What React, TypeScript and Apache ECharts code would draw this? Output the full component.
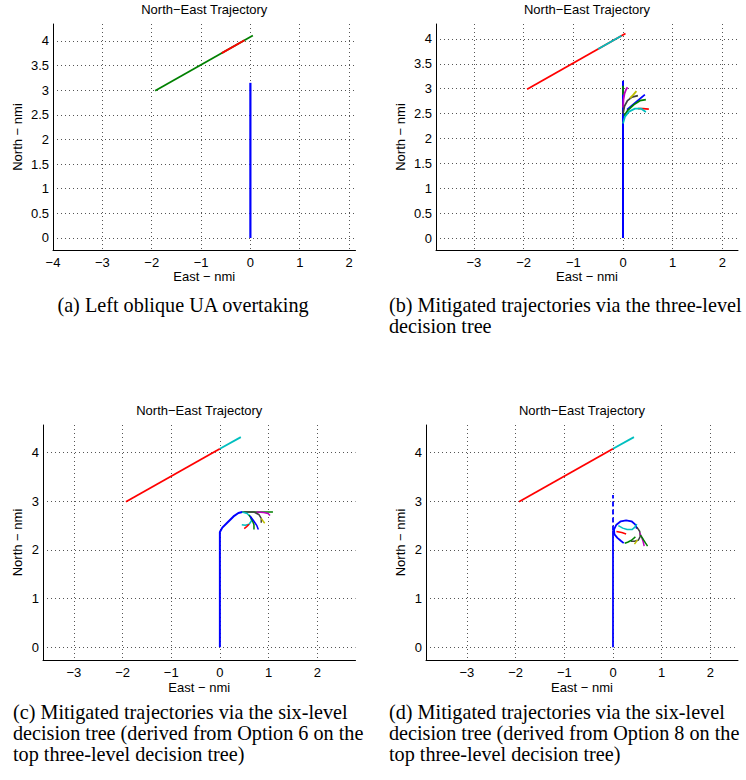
import React, { useEffect, useRef } from "react";
import * as echarts from "echarts";

// MATLAB (pre-2014b) line colour order
const BLUE = "#0000ff";
const GREEN = "#008000";
const RED = "#ff0000";
const CYAN = "#00bfbf";
const MAGENTA = "#bf00bf";
const YELLOW = "#bfbf00";
const GRAY = "#404040";

// Tick values
const xTicksA = [-4, -3, -2, -1, 0, 1, 2];
const xTicksBCD = [-3, -2, -1, 0, 1, 2];
const yTicksAB = [0, 0.5, 1, 1.5, 2, 2.5, 3, 3.5, 4];
const yTicksCD = [0, 1, 2, 3, 4];

// (a) Left oblique UA overtaking
const ownA = [[0, 0], [0, 3.15]];
const intruderA = [[-1.93, 2.99], [0.05, 4.11]];
const conflictA = [[-0.58, 3.754], [-0.12, 4.014]];

// (b) three-level decision tree
const ownB = [[0, 0], [0, 3.16]];
const intruderB = [[-1.93, 2.99], [0.05, 4.11]];
const intruderSegB = [[-0.5, 3.799], [-0.03, 4.065]];
const branchesB: [number[][], string][] = [
  [[[0, 2.88], [0, 3.06]], GREEN],
  [[[0, 2.62], [0.01, 2.78], [0.03, 2.9], [0.06, 2.98], [0.09, 3.03]], MAGENTA],
  [[[0, 2.5], [0.03, 2.65], [0.09, 2.76], [0.18, 2.83], [0.3, 2.86]], GRAY],
  [[[0.14, 2.81], [0.2, 2.87], [0.27, 2.95]], YELLOW],
  [[[0.08, 2.58], [0.2, 2.68], [0.32, 2.78], [0.44, 2.88]], BLUE],
  [[[0.02, 2.45], [0.1, 2.57], [0.22, 2.68], [0.34, 2.76], [0.46, 2.78]], GREEN],
  [[[0.3, 2.6], [0.4, 2.6], [0.52, 2.59]], RED],
  [[[0, 2.3], [0.04, 2.44], [0.12, 2.54], [0.24, 2.6], [0.36, 2.6], [0.46, 2.53]], CYAN],
];

// (c) six-level tree, derived from Option 6
const ownC = [[0, 0], [0, 2.37], [0.05, 2.46], [0.15, 2.56], [0.28, 2.69], [0.38, 2.76], [0.46, 2.78]];
const intruderC = [[-1.93, 2.99], [0, 4.08]];
const intruderSegC = [[0, 4.08], [0.43, 4.32]];
const branchesC: [number[][], string][] = [
  [[[0.46, 2.78], [0.75, 2.78], [1.09, 2.78]], GREEN],
  [[[0.75, 2.78], [0.9, 2.77], [0.99, 2.75], [1.03, 2.71]], MAGENTA],
  [[[0.46, 2.78], [0.7, 2.78], [0.8, 2.73], [0.85, 2.65], [0.85, 2.56]], GRAY],
  [[[0.85, 2.65], [0.89, 2.59], [0.92, 2.55]], YELLOW],
  [[[0.46, 2.78], [0.56, 2.75], [0.63, 2.68], [0.65, 2.6], [0.6, 2.53], [0.52, 2.51], [0.45, 2.52]], CYAN],
  [[[0.6, 2.53], [0.55, 2.48], [0.5, 2.44]], RED],
  [[[0.6, 2.72], [0.66, 2.62], [0.7, 2.52], [0.7, 2.42]], GREEN],
  [[[0.62, 2.7], [0.7, 2.59], [0.76, 2.5], [0.79, 2.42]], BLUE],
];

// (d) six-level tree, derived from Option 8
const ownD = [[0, 0], [0, 2.4]];
const ownDashedD = [[0, 2.4], [0, 3.13]];
const loopD = [
  [0.49, 2.44], [0.46, 2.52], [0.38, 2.59], [0.27, 2.61], [0.16, 2.59], [0.07, 2.52],
  [0.02, 2.42], [0.03, 2.32], [0.09, 2.25], [0.16, 2.19], [0.22, 2.14],
];
const intruderD = [[-1.93, 2.99], [0, 4.08]];
const intruderSegD = [[0, 4.08], [0.43, 4.32]];
const branchesD: [number[][], string][] = [
  [[[0.11, 2.5], [0.2, 2.45], [0.29, 2.42], [0.39, 2.42], [0.45, 2.47], [0.49, 2.53]], CYAN],
  [[[0.07, 2.38], [0.18, 2.36], [0.27, 2.33]], RED],
  [[[0.49, 2.47], [0.55, 2.38], [0.56, 2.28], [0.52, 2.2], [0.44, 2.18], [0.37, 2.18]], GRAY],
  [[[0.46, 2.27], [0.38, 2.2], [0.3, 2.16], [0.24, 2.14]], GREEN],
  [[[0.5, 2.21], [0.47, 2.16], [0.44, 2.12]], YELLOW],
  [[[0.55, 2.35], [0.59, 2.26], [0.62, 2.17], [0.64, 2.08]], MAGENTA],
  [[[0.56, 2.31], [0.62, 2.22], [0.67, 2.14], [0.71, 2.08]], GREEN],
];

const SANS = "'Liberation Sans', Arial, Helvetica, sans-serif";
const SERIF = "'Liberation Serif', 'Times New Roman', serif";

type Panel = {
  grid: { left: number; top: number; width: number; height: number };
  x: [number, number];
  y: [number, number];
  xTicks: number[];
  yTicks: number[];
  xGap: number;
  yGap: number;
  lines: { data: number[][]; color: string; width: number; dashed?: boolean }[];
};

const panels: Panel[] = [
  {
    grid: { left: 53, top: 24, width: 302.5, height: 226 },
    x: [-4, 2.13],
    y: [-0.244, 4.345],
    xTicks: xTicksA,
    yTicks: yTicksAB,
    xGap: 20,
    yGap: 29,
    lines: [
      { data: ownA, color: BLUE, width: 2.2 },
      { data: intruderA, color: GREEN, width: 1.8 },
      { data: conflictA, color: RED, width: 1.8 },
    ],
  },
  {
    grid: { left: 436, top: 24, width: 302, height: 226 },
    x: [-3.763, 2.314],
    y: [-0.241, 4.3],
    xTicks: xTicksBCD,
    yTicks: yTicksAB,
    xGap: 20,
    yGap: 29,
    lines: [
      { data: ownB, color: BLUE, width: 2 },
      { data: intruderB, color: RED, width: 1.8 },
      { data: intruderSegB, color: CYAN, width: 1.8 },
      ...branchesB.map(([d, c]) => ({ data: d, color: c, width: 1.8 })),
    ],
  },
  {
    grid: { left: 43, top: 425, width: 312.5, height: 235 },
    x: [-3.634, 2.786],
    y: [-0.261, 4.569],
    xTicks: xTicksBCD,
    yTicks: yTicksCD,
    xGap: 21,
    yGap: 19,
    lines: [
      { data: ownC, color: BLUE, width: 2 },
      { data: intruderC, color: RED, width: 1.8 },
      { data: intruderSegC, color: CYAN, width: 1.8 },
      ...branchesC.map(([d, c]) => ({ data: d, color: c, width: 1.5 })),
    ],
  },
  {
    grid: { left: 426, top: 425, width: 312, height: 235 },
    x: [-3.84, 2.567],
    y: [-0.261, 4.569],
    xTicks: xTicksBCD,
    yTicks: yTicksCD,
    xGap: 21,
    yGap: 19,
    lines: [
      { data: ownD, color: BLUE, width: 1.8 },
      { data: ownDashedD, color: BLUE, width: 1.8, dashed: true },
      { data: loopD, color: BLUE, width: 1.8 },
      { data: intruderD, color: RED, width: 1.8 },
      { data: intruderSegD, color: CYAN, width: 1.8 },
      ...branchesD.map(([d, c]) => ({ data: d, color: c, width: 1.5 })),
    ],
  },
];

const TITLE = "North\u2212East Trajectory";
const X_NAME = "East \u2212 nmi";
const Y_NAME = "North \u2212 nmi";

const captionA = ["(a) Left oblique UA overtaking"];
const captionB = ["(b) Mitigated trajectories via the three-level", "decision tree"];
const captionC = [
  "(c) Mitigated trajectories via the six-level",
  "decision tree (derived from Option 6 on the",
  "top three-level decision tree)",
];
const captionD = [
  "(d) Mitigated trajectories via the six-level",
  "decision tree (derived from Option 8 on the",
  "top three-level decision tree)",
];

const minus = (v: number) => String(v).replace("-", "\u2212");

function axisCommon(ticks: number[]) {
  return {
    type: "value" as const,
    nameLocation: "middle" as const,
    nameTextStyle: { fontFamily: SANS, fontSize: 13, color: "#000" },
    axisLine: { show: true, onZero: false, lineStyle: { color: "#000", width: 1 } },
    axisTick: { show: false, customValues: ticks },
    axisLabel: {
      customValues: ticks,
      formatter: minus,
      color: "#000",
      fontFamily: SANS,
      fontSize: 13,
    },
    splitLine: { show: true, lineStyle: { color: "#555", width: 1, type: [1, 3] } },
  };
}

export default function App() {
  const ref = useRef<HTMLDivElement>(null);

  useEffect(() => {
    if (!ref.current) return;
    const chart = echarts.init(ref.current, undefined, { renderer: "svg" });

    const grids = panels.map((p) => ({ ...p.grid, containLabel: false }));
    const xAxes = panels.map((p, i) => {
      const c = axisCommon(p.xTicks);
      return {
        ...c,
        gridIndex: i,
        min: p.x[0],
        max: p.x[1],
        name: X_NAME,
        nameGap: p.xGap,
        axisLabel: { ...c.axisLabel, margin: 6 },
      };
    });
    const yAxes = panels.map((p, i) => {
      const c = axisCommon(p.yTicks);
      return {
        ...c,
        gridIndex: i,
        min: p.y[0],
        max: p.y[1],
        name: Y_NAME,
        nameGap: p.yGap,
        nameRotate: 90,
        axisLabel: { ...c.axisLabel, margin: 4 },
      };
    });
    const series: any[] = [];
    panels.forEach((p, i) => {
      p.lines.forEach((l) => {
        series.push({
          type: "line",
          xAxisIndex: i,
          yAxisIndex: i,
          data: l.data,
          symbol: "none",
          showSymbol: false,
          silent: true,
          lineStyle: { color: l.color, width: l.width, type: l.dashed ? [5, 3] : "solid" },
        });
      });
    });

    const graphic: any[] = [];
    panels.forEach((p) => {
      graphic.push({
        type: "text",
        x: p.grid.left + p.grid.width / 2,
        y: p.grid.top - 15,
        style: {
          text: TITLE,
          fontFamily: SANS,
          fontSize: 13,
          fill: "#000",
          textAlign: "center",
          textVerticalAlign: "middle",
        },
      });
    });
    const captions: [string[], number, number, "left" | "center"][] = [
      [captionA, 183, 305, "center"],
      [captionB, 389, 305, "left"],
      [captionC, 13, 711.5, "left"],
      [captionD, 389, 711.5, "left"],
    ];
    captions.forEach(([lines, x, y, align]) => {
      lines.forEach((t, k) => {
        graphic.push({
          type: "text",
          x,
          y: y + k * 21,
          style: {
            text: t,
            fontFamily: SERIF,
            fontSize: 20.2,
            fill: "#000",
            textAlign: align,
            textVerticalAlign: "middle",
          },
        });
      });
    });

    chart.setOption({
      animation: false,
      backgroundColor: "#fff",
      grid: grids,
      xAxis: xAxes,
      yAxis: yAxes,
      series,
      graphic,
    });
    return () => chart.dispose();
  }, []);

  return (
    <div
      ref={ref}
      style={{ position: "absolute", left: 0, top: 0, width: 746, height: 780, background: "#fff" }}
    />
  );
}
